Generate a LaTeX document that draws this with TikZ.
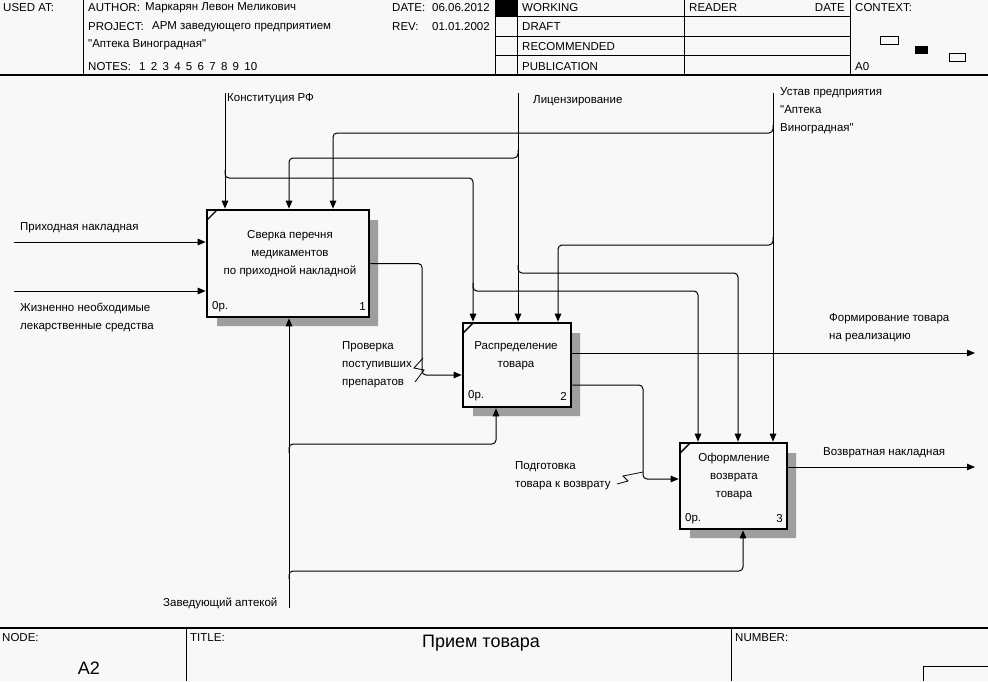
\documentclass[tikz,border=0pt]{standalone}
\usepackage{fontspec}
\setmainfont{Liberation Sans}[Ligatures=TeXOff]
\usetikzlibrary{arrows.meta,calc}
\definecolor{bg}{RGB}{248,248,248}
\newcommand\dq{\char"0022\relax}
\begin{document}
\begin{tikzpicture}[x=1pt,y=-1pt,
  font=\fontsize{11.5}{18}\selectfont,
  conn/.style={line width=1pt, rounded corners=4pt},
  flow/.style={conn, -{Triangle[length=8pt,width=6.5pt]}},
  frame/.style={line width=1pt},
  heavy/.style={line width=1.6pt},
  fnbox/.style={draw, line width=2.6pt, fill=bg, inner sep=0pt},
  shadowfill/.style={fill=black!38},
  txt/.style={anchor=west, inner sep=0pt, align=left},
  boxtxt/.style={inner sep=0pt, align=center},
  small/.style={inner sep=0pt}
]
\useasboundingbox (0,0) rectangle (988,681);
\fill[bg] (0,0) rectangle (988,681);

% ---------- header ----------
\draw[heavy] (0,75) -- (988,75);
\foreach \xx in {83,495,517,684,850} \draw[frame] (\xx,0) -- (\xx,75);
\foreach \yy in {16,36,55} \draw[frame] (495,\yy) -- (850,\yy);
\fill (495,0) rectangle (517,16);
\node[txt] (usedat) at (3,8) {USED AT:};
\node[txt] (author) at (88,8) {AUTHOR:};
\node[txt] (authorv) at (145,8) {Маркарян Левон Меликович};
\node[txt] (project) at (88,27) {PROJECT:};
\node[txt] (projectv) at (152,27) {АРМ заведующего предприятием};
\node[txt] (project2) at (88,45) {\dq Аптека Виноградная\dq};
\node[txt] (notes) at (88,67) {NOTES:};
\node[txt] (notesv) at (139,67) {\spaceskip=5.3pt 1 2 3 4 5 6 7 8 9 10};
\node[txt] (date) at (392,8) {DATE:};
\node[txt] (datev) at (432,8) {06.06.2012};
\node[txt] (rev) at (392,27) {REV:};
\node[txt] (revv) at (432,27) {01.01.2002};
\node[txt] (working) at (522,8) {WORKING};
\node[txt] (draft) at (522,27) {DRAFT};
\node[txt] (recom) at (522,47) {RECOMMENDED};
\node[txt] (publ) at (522,67) {PUBLICATION};
\node[txt] (reader) at (689,8) {READER};
\node[anchor=east, inner sep=0pt] (rdate) at (845,8) {DATE};
\node[txt] (context) at (855,8) {CONTEXT:};
\node[txt] (a0) at (855,67) {A0};
\draw[frame] (880,36) rectangle (898,44);
\fill (915,46) rectangle (928,54);
\draw[frame] (949,53) rectangle (965,61);

% ---------- footer ----------
\draw[heavy] (0,628) -- (988,628);
\draw[frame] (186,628) -- (186,681);
\draw[frame] (731,628) -- (731,681);
\draw[frame] (923,681) -- (923,666) -- (988,666);
\node[txt] (node) at (2,638) {NODE:};
\node[small, font=\fontsize{18}{20}\selectfont] (a2) at (89,668) {A2};
\node[txt] (title) at (190,638) {TITLE:};
\node[small, font=\fontsize{18}{20}\selectfont] (ttl) at (481,643) {Прием товара};
\node[txt] (number) at (735,638) {NUMBER:};

% ---------- shadows ----------
\fill[shadowfill] (369,220) -- (378,220) -- (378,326) -- (217,326) -- (217,317) -- (369,317) -- cycle;
\fill[shadowfill] (571,333) -- (580,333) -- (580,416) -- (473,416) -- (473,407) -- (571,407) -- cycle;
\fill[shadowfill] (787,453) -- (796,453) -- (796,538) -- (690,538) -- (690,529) -- (787,529) -- cycle;

% ---------- function boxes ----------
\node[fnbox, minimum width=162pt, minimum height=107pt] (b1) at (288,263.5) {};
\node[fnbox, minimum width=108pt, minimum height=84pt] (b2) at (517,365) {};
\node[fnbox, minimum width=107pt, minimum height=86pt] (b3) at (733.5,486) {};
\draw[line width=1.4pt] (207,220) -- (217,210);
\draw[line width=1.4pt] (463,333) -- (473,323);
\draw[line width=1.4pt] (680,453) -- (690,443);
\node[boxtxt] (t1) at (290,254) {Сверка перечня\\медикаментов\\по приходной накладной};
\node[boxtxt] (t2) at (516,356) {Распределение\\товара};
\node[boxtxt] (t3) at (734,477) {Оформление\\возврата\\товара};
\node[txt] (c1) at (212,307) {0р.};
\node[anchor=east, inner sep=0pt] (n1) at (366,307) {1};
\node[txt] (c2) at (468,396) {0р.};
\node[anchor=east, inner sep=0pt] (n2) at (567,396) {2};
\node[txt] (c3) at (685,519) {0р.};
\node[anchor=east, inner sep=0pt] (n3) at (783,519) {3};

% ---------- inputs ----------
\coordinate (i1) at (14,242);
\coordinate (i2) at (14,291);
\draw[flow] (i1) -- (i1 -| b1.west);
\draw[flow] (i2) -- (i2 -| b1.west);
\node[txt] (li1) at (20,228) {Приходная накладная};
\node[txt] (li2) at (20,317) {Жизненно необходимые\\лекарственные средства};

% ---------- controls ----------
% Конституция РФ
\coordinate (kT) at (225,93);
\coordinate (kA) at (225,170);
\coordinate (kB) at (473,178);
\coordinate (kC) at (473,283);
\coordinate (kD) at (698,291);
\draw[flow] (kT) -- (kT |- b1.north);
\draw[flow] (kA) -- (225,178) -- (kB) -- (kB |- b2.north);
\draw[flow] (kC) -- (473,291) -- (kD) -- (kD |- b3.north);
\node[txt] (lk) at (227,99) {Конституция РФ};
% Лицензирование
\coordinate (lT) at (518,93);
\coordinate (lA) at (518,150);
\coordinate (lB) at (289,158);
\coordinate (lC) at (518,265);
\coordinate (lD) at (738,273);
\draw[flow] (lT) -- (lT |- b2.north);
\draw[flow] (lA) -- (518,158) -- (lB) -- (lB |- b1.north);
\draw[flow] (lC) -- (518,273) -- (lD) -- (lD |- b3.north);
\node[txt] (ll) at (533,101) {Лицензирование};
% Устав
\coordinate (uT) at (773,93);
\coordinate (uA) at (773,125);
\coordinate (uB) at (333,133);
\coordinate (uC) at (773,237);
\coordinate (uD) at (558,245);
\draw[flow] (uT) -- (uT |- b3.north);
\draw[flow] (uA) -- (773,133) -- (uB) -- (uB |- b1.north);
\draw[flow] (uC) -- (773,245) -- (uD) -- (uD |- b2.north);
\node[txt] (lu) at (780,111) {Устав предприятия\\\dq Аптека\\Виноградная\dq};

% ---------- outputs ----------
\coordinate (o1a) at (422,263.5);
\coordinate (o1b) at (422,375);
\draw[flow] (b1.east) -- (o1a) -- (o1b) -- (o1b -| b2.west);
\node[txt] (lo1) at (342,365) {Проверка\\поступивших\\препаратов};
\draw[line width=0.8pt] (415,382) -- (424,370) -- (414,368) -- (423,358);

\coordinate (f1) at (975,353);
\draw[flow] (f1 -| b2.east) -- (f1);
\node[txt] (lf1) at (829,327.5) {Формирование товара\\на реализацию};

\coordinate (o2a) at (643,385);
\coordinate (o2b) at (643,479);
\draw[flow] (o2a -| b2.east) -- (o2a) -- (o2b) -- (o2b -| b3.west);
\node[txt] (lo2) at (515,476) {Подготовка\\товара к возврату};
\draw[line width=0.8pt] (617,484) -- (628,481) -- (623,476) -- (643,472);

\coordinate (f2) at (975,467);
\draw[flow] (f2 -| b3.east) -- (f2);
\node[txt] (lf2) at (823,453) {Возвратная накладная};

% ---------- mechanisms ----------
\coordinate (mT) at (289,608);
\coordinate (mA) at (289,453);
\coordinate (mB) at (496,444);
\coordinate (mC) at (289,579);
\coordinate (mD) at (743,571);
\draw[flow] (mT) -- (mT |- b1.south);
\draw[flow] (mA) -- (289,444) -- (mB) -- (mB |- b2.south);
\draw[flow] (mC) -- (289,571) -- (mD) -- (mD |- b3.south);
\node[txt] (lm) at (163,603) {Заведующий аптекой};
\end{tikzpicture}
\end{document}
